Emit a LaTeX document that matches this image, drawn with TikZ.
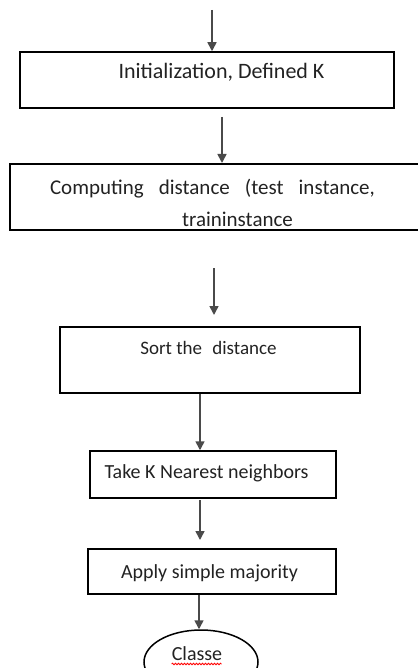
\documentclass[tikz,border=0pt]{standalone}
\usepackage{fontspec}
\setmainfont{Carlito}
\usetikzlibrary{arrows.meta,shapes.geometric,decorations.pathmorphing}
\definecolor{txt}{HTML}{222222}
\definecolor{arrcol}{HTML}{4A4A4A}
\tikzset{
  boxline/.style={draw=black, line width=1.5pt},
  arr/.style={draw=arrcol, line width=1.6pt, -{Triangle[width=9pt,length=9pt]}},
  lbl/.style={anchor=base, inner sep=0pt, text=txt, font=\fontsize{20}{24}\selectfont},
  lblbig/.style={lbl, font=\fontsize{22}{26}\selectfont},
}
\begin{document}
\begin{tikzpicture}[x=1pt,y=-1pt]
\useasboundingbox (0,0) rectangle (417,668);
% boxes
\node[boxline, rectangle, minimum width=374pt, minimum height=56pt, inner sep=0pt] (b1) at (207,80) {};
\node[boxline, rectangle, minimum width=420pt, minimum height=66pt, inner sep=0pt] (b2) at (220,197) {};
\node[boxline, rectangle, minimum width=300pt, minimum height=66pt, inner sep=0pt] (b3) at (210,360) {};
\node[boxline, rectangle, minimum width=246pt, minimum height=47pt, inner sep=0pt] (b4) at (213,474.5) {};
\node[boxline, rectangle, minimum width=248pt, minimum height=45pt, inner sep=0pt] (b5) at (212,571.5) {};
\node[draw=black, line width=1.5pt, ellipse, minimum width=114pt, minimum height=64pt, inner sep=0pt] (e) at (201,662) {};
% texts
\node[lblbig] (t1) at (221.5,79) {Initialization, Defined K};
\node[lbl, font=\fontsize{21}{25}\selectfont] (t2a) at (212.5,194) {\makebox[325pt][s]{Computing distance (test instance,}};
\node[lbl, font=\fontsize{21}{25}\selectfont] (t2b) at (237.5,226) {traininstance};
\node[lbl, font=\fontsize{19}{23}\selectfont] (t3) at (208.5,354) {Sort the\hspace{6pt} distance};
\node[lbl] (t4) at (206.5,478) {Take K Nearest neighbors};
\node[lbl] (t5) at (209.5,578) {Apply simple majority};
\node[lbl] (t6) at (197,660) {Classe};
\draw[red, line width=0.8pt, decorate, decoration={snake, segment length=3pt, amplitude=0.8pt}] (t6.base west) ++(0,4) -- ++(50,0);
% arrow coordinates
\coordinate (a1s) at (212,10);
\coordinate (a2s) at (222,117);
\coordinate (a2e) at (222,163);
\coordinate (a3s) at (214,268);
\coordinate (a3e) at (214,315);
\coordinate (a4x) at (200,0);
\coordinate (a5s) at (200,500);
\coordinate (a5e) at (200,540);
\coordinate (a6x) at (199,0);
% arrows
\draw[arr] (a1s) -- (a1s |- b1.north);
\draw[arr] (a2s) -- (a2e);
\draw[arr] (a3s) -- (a3e);
\draw[arr] (b3.south -| a4x) -- (b4.north -| a4x);
\draw[arr] (a5s) -- (a5e);
\draw[arr] (b5.south -| a6x) -- (e.north -| a6x);
\end{tikzpicture}
\end{document}
